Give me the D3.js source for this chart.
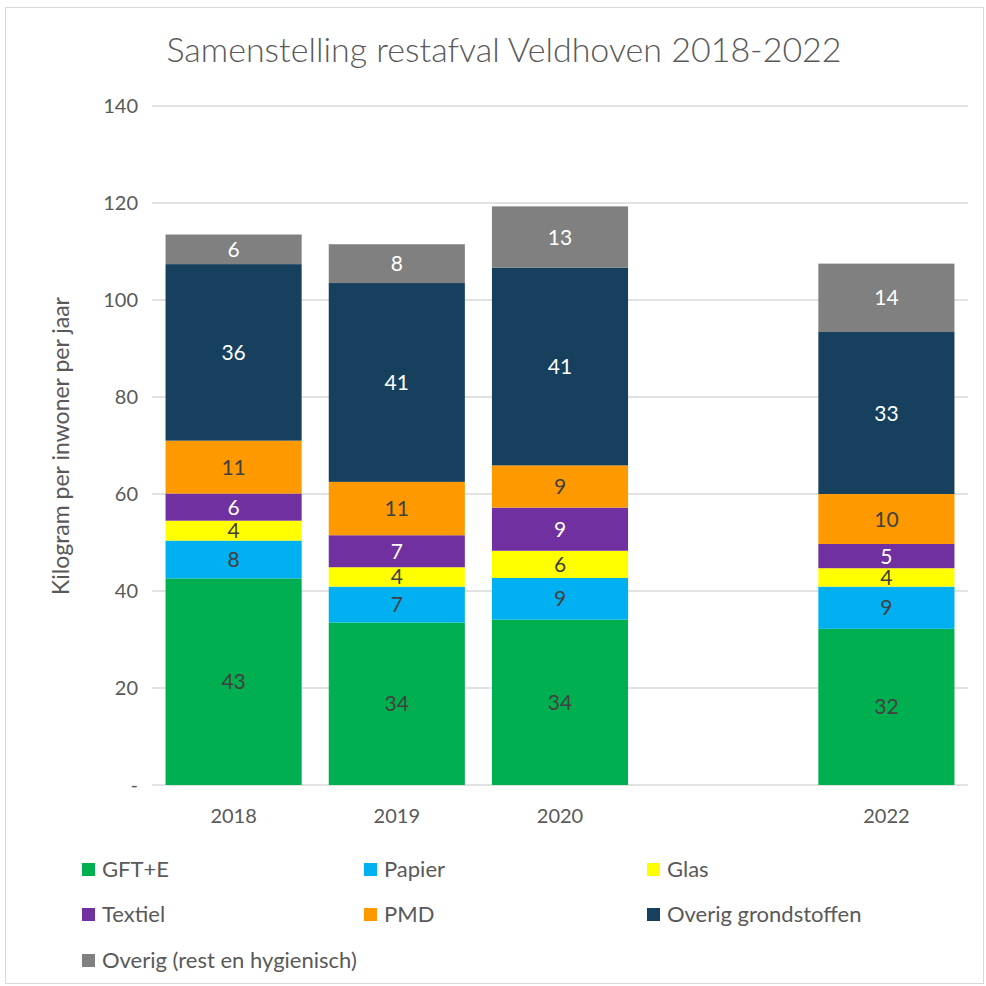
<!DOCTYPE html>
<html lang="nl">
<head>
    <meta charset="UTF-8">
    <title>Samenstelling restafval Veldhoven 2018-2022</title>
    <script src="https://d3js.org/d3.v7.min.js"></script>
    <style>
        body { margin: 0; background: #fff; }
        svg text { font-family: Lato, "Open Sans", sans-serif; fill: #595959; }
    </style>
</head>
<body>
    <div id="chart"></div>

    <script>
        // Categories (2021 has no data but keeps its slot)
        const years = ["2018", "2019", "2020", "2021", "2022"];
        const series = ["GFT+E", "Papier", "Glas", "Textiel", "PMD", "Overig grondstoffen", "Overig (rest en hygienisch)"];
        const colors = ["#00b050", "#00b0f0", "#ffff00", "#7030a0", "#ff9900", "#17405f", "#808080"];
        const labelColors = ["#404040", "#404040", "#404040", "#ffffff", "#404040", "#ffffff", "#ffffff"];

        // kg per inwoner, one array per year, in series order
        const v2018 = [42.6, 7.8, 4.1, 5.6, 10.9, 36.4, 6.1];
        const v2019 = [33.5, 7.4, 4.0, 6.6, 11.0, 41.0, 8.0];
        const v2020 = [34.1, 8.6, 5.6, 8.9, 8.7, 40.8, 12.6];
        const v2021 = null;
        const v2022 = [32.2, 8.7, 3.8, 5.0, 10.3, 33.4, 14.1];
        const yTicks = [0, 20, 40, 60, 80, 100, 120, 140];

        const values = [v2018, v2019, v2020, v2021, v2022];
        const table = years.map(function(y, i) {
            const row = { year: y };
            series.forEach(function(s, j) { row[s] = values[i] ? values[i][j] : 0; });
            row.empty = !values[i];
            return row;
        });

        const width = 986, height = 986;
        const margin = { top: 106, right: 18, bottom: 201, left: 152 };
        const innerW = width - margin.left - margin.right;
        const innerH = height - margin.top - margin.bottom;

        const svg = d3.select("#chart").append("svg")
            .attr("width", width)
            .attr("height", height);

        // chart border
        svg.append("rect")
            .attr("x", 5.5).attr("y", 7.5)
            .attr("width", width - 8).attr("height", height - 10)
            .attr("fill", "#fff")
            .attr("stroke", "#d9d9d9");

        const g = svg.append("g")
            .attr("transform", "translate(" + margin.left + "," + margin.top + ")");

        const x = d3.scaleBand().domain(years).range([0, innerW]).paddingInner(0.166).paddingOuter(0.083);
        const y = d3.scaleLinear().domain([0, 140]).range([innerH, 0]);

        // gridlines
        g.selectAll(".grid")
            .data(yTicks)
            .enter().append("line")
            .attr("x1", 0).attr("x2", innerW)
            .attr("y1", function(d) { return y(d); })
            .attr("y2", function(d) { return y(d); })
            .attr("stroke", "#d9d9d9")
            .attr("stroke-width", 1.3);

        // y tick labels
        g.selectAll(".ytick")
            .data(yTicks)
            .enter().append("text")
            .attr("x", -14)
            .attr("y", function(d) { return y(d); })
            .attr("dy", "0.35em")
            .attr("text-anchor", "end")
            .style("font-size", "20px")
            .text(function(d) { return d === 0 ? "-" : d; });

        // x tick labels (skip empty year)
        g.selectAll(".xtick")
            .data(table.filter(function(d) { return !d.empty; }))
            .enter().append("text")
            .attr("x", function(d) { return x(d.year) + x.bandwidth() / 2; })
            .attr("y", innerH + 38)
            .attr("text-anchor", "middle")
            .style("font-size", "20px")
            .text(function(d) { return d.year; });

        const stacked = d3.stack().keys(series)(table);

        const layer = g.selectAll(".layer")
            .data(stacked)
            .enter().append("g")
            .attr("fill", function(d, i) { return colors[i]; });

        layer.selectAll("rect")
            .data(function(d) { return d.filter(function(p) { return !p.data.empty; }); })
            .enter().append("rect")
            .attr("x", function(d) { return x(d.data.year); })
            .attr("y", function(d) { return y(d[1]); })
            .attr("width", x.bandwidth())
            .attr("height", function(d) { return y(d[0]) - y(d[1]); });

        // data labels
        stacked.forEach(function(s, i) {
            g.selectAll(".lbl" + i)
                .data(s.filter(function(p) { return !p.data.empty; }))
                .enter().append("text")
                .attr("x", function(d) { return x(d.data.year) + x.bandwidth() / 2; })
                .attr("y", function(d) { return y((d[0] + d[1]) / 2); })
                .attr("dy", "0.36em")
                .attr("text-anchor", "middle")
                .style("font-size", "21px")
                .style("fill", labelColors[i])
                .text(function(d) { return Math.round(d[1] - d[0]); });
        });

        // title
        svg.append("text")
            .attr("x", 504)
            .attr("y", 62)
            .attr("text-anchor", "middle")
            .style("font-size", "34px")
            .style("font-weight", "300")
            .text("Samenstelling restafval Veldhoven 2018-2022");

        // y axis title
        svg.append("text")
            .attr("transform", "translate(69,446) rotate(-90)")
            .attr("text-anchor", "middle")
            .style("font-size", "23px")
            .text("Kilogram per inwoner per jaar");

        // legend
        const legX = [82, 364, 647];
        const legY = [869, 914, 960];
        const legend = svg.selectAll(".legend")
            .data(series)
            .enter().append("g")
            .attr("transform", function(d, i) {
                return "translate(" + legX[i % 3] + "," + legY[Math.floor(i / 3)] + ")";
            });
        legend.append("rect")
            .attr("x", 0).attr("y", -6)
            .attr("width", 13).attr("height", 13)
            .attr("fill", function(d, i) { return colors[i]; });
        legend.append("text")
            .attr("x", 20)
            .attr("dy", "0.35em")
            .style("font-size", "22px")
            .text(function(d) { return d; });
    </script>
</body>
</html>
